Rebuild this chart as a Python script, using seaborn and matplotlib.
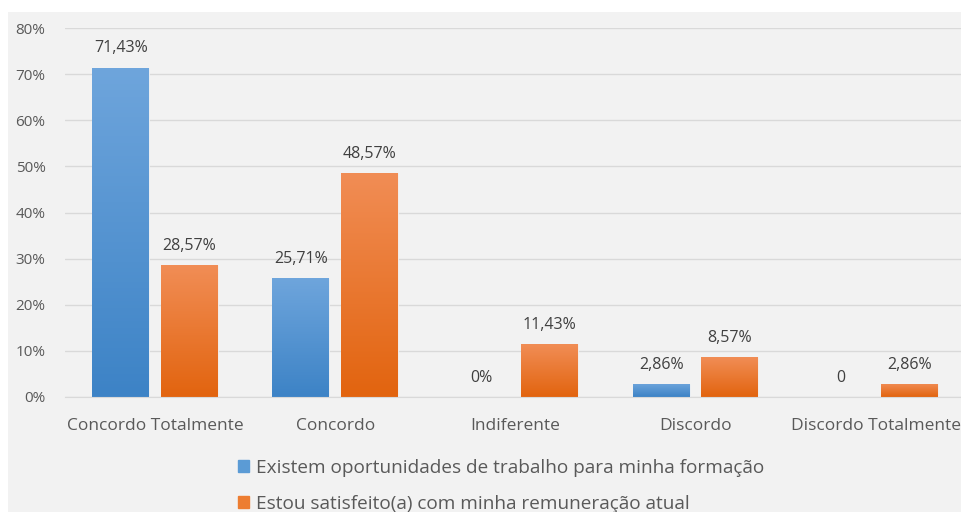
import numpy as np
import pandas as pd
import matplotlib
matplotlib.use("Agg")
import matplotlib.pyplot as plt
import seaborn as sns
from matplotlib.colors import LinearSegmentedColormap

# data
categorias = ["Concordo Totalmente", "Concordo", "Indiferente", "Discordo", "Discordo Totalmente"]
serie_nomes = ["Existem oportunidades de trabalho para minha formação",
               "Estou satisfeito(a) com minha remuneração atual"]
oportunidades = [0.7143, 0.2571, 0.0, 0.0286, 0.0]
remuneracao = [0.2857, 0.4857, 0.1143, 0.0857, 0.0286]
rotulos_op = ["71,43%", "25,71%", "0%", "2,86%", "0"]
rotulos_rem = ["28,57%", "48,57%", "11,43%", "8,57%", "2,86%"]
yticks = [0, 0.1, 0.2, 0.3, 0.4, 0.5, 0.6, 0.7, 0.8]

df = pd.DataFrame({
    "categoria": categorias * 2,
    "serie": [serie_nomes[0]] * 5 + [serie_nomes[1]] * 5,
    "valor": oportunidades + remuneracao,
})

sns.set_style("white")
plt.rcParams["font.family"] = ["Open Sans", "DejaVu Sans"]
cinza = "#595959"

fig = plt.figure(figsize=(9.62, 5.12), dpi=100)
# light grey chart panel like the Excel export
fig.patches.append(plt.Rectangle((8 / 962, 0), 1, 1 - 12 / 512, transform=fig.transFigure,
                                 facecolor="#f2f2f2", edgecolor="none", zorder=-10))
ax = fig.add_axes([65 / 962, 115 / 512, 897 / 962, 369 / 512])
ax.set_facecolor("none")

cores = {serie_nomes[0]: "#5b9bd5", serie_nomes[1]: "#ed7d31"}
sns.barplot(data=df, x="categoria", y="valor", hue="serie", palette=cores,
            width=0.762, gap=0.17, ax=ax, edgecolor="#f7f7f7", linewidth=0.6,
            order=categorias, hue_order=serie_nomes, legend=True)

# gradient fill over each bar
grad = {serie_nomes[0]: LinearSegmentedColormap.from_list("b", ["#3d83c6", "#6ea5dc"]),
        serie_nomes[1]: LinearSegmentedColormap.from_list("o", ["#e2640f", "#f18d55"])}
for cont, nome in zip(ax.containers, serie_nomes):
    for p in cont.patches:
        x0, y0 = p.get_x(), p.get_y()
        w, h = p.get_width(), p.get_height()
        if h <= 0:
            continue
        im = ax.imshow(np.linspace(0, 1, 100).reshape(-1, 1), cmap=grad[nome], aspect="auto",
                       extent=[x0, x0 + w, y0, y0 + h], origin="lower", zorder=p.get_zorder() + 0.1)
        im.set_clip_path(p)

for cont, labs in zip(ax.containers, [rotulos_op, rotulos_rem]):
    ax.bar_label(cont, labels=labs, padding=8, fontsize=11.5, color="#404040")

ax.set_xlim(-0.5, 4.48)
ax.set_ylim(0, 0.8)
ax.set_yticks(yticks)
ax.set_yticklabels([f"{int(round(t * 100))}%" for t in yticks])
ax.yaxis.grid(True, color="#d9d9d9", linewidth=1)
ax.set_axisbelow(True)
ax.tick_params(axis="both", length=0, labelsize=11, colors=cinza)
ax.tick_params(axis="y", pad=14)
ax.tick_params(axis="x", pad=15)
for lbl in ax.get_xticklabels():
    lbl.set_fontsize(12.5)
ax.set_xlabel("")
ax.set_ylabel("")
sns.despine(ax=ax, left=True, bottom=False)
ax.spines["bottom"].set_color("#d9d9d9")

ax.legend_.remove()
handles = [plt.Rectangle((0, 0), 1, 1, color=cores[n]) for n in serie_nomes]
fig.legend(handles, serie_nomes, loc="upper left", bbox_to_anchor=(230 / 962, 1 - 451 / 512),
           frameon=False, ncol=1, fontsize=13.7, labelcolor=cinza, handlelength=0.6,
           handleheight=0.6, handletextpad=0.35, labelspacing=0.95, borderaxespad=0)

fig.savefig("out.png", dpi=100, facecolor="white")
